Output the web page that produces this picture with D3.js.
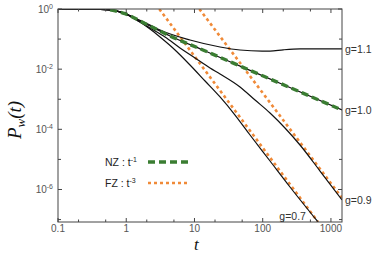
<!DOCTYPE html>
<html><head><meta charset="utf-8">
<script src="https://cdn.jsdelivr.net/npm/d3@7"></script>
<style>
html,body{margin:0;padding:0;background:#fff;}
svg{display:block;}
</style>
</head><body>
<svg id="chart" width="374" height="255"></svg>
<script>
// ---- data (t, P_w) ----
const tG11 = [0.1,0.295,0.58,0.96,1.59,2.23,3.13,8.6,23.7,46.5,98,128,200,352,1452];
const pG11 = [1,0.99,0.93,0.70,0.42,0.294,0.2,0.0931,0.0546,0.0434,0.040,0.040,0.044,0.047,0.047];

const tG10 = [0.1,0.295,0.58,0.96,1.59,2.23,4.38,13.3,51.5,179,1452];
const pG10 = [1,0.99,0.93,0.70,0.40,0.272,0.127,0.0434,0.0115,0.0034,4.39e-4];

const tG09 = [0.1,0.295,0.58,0.96,1.59,2.23,3.7,6.14,10.2,16.9,23.7,46.5,77.2,128,212,352,692,1452];
const pG09 = [1,0.99,0.93,0.70,0.37,0.233,0.117,0.0505,0.0235,0.01093,0.0069,0.00255,9.4e-4,3.49e-4,1.107e-4,3.01e-5,4.11e-6,4.47e-7];

const tG07 = [0.1,0.295,0.58,0.96,1.59,2.23,3.13,5.19,8.6,14.3,23.7,39.3,65.2,128,251,647];
const pG07 = [1,0.99,0.93,0.70,0.37,0.216,0.117,0.0434,0.01376,0.00404,0.00119,2.99e-4,6.47e-5,8.85e-6,1.21e-6,8.3e-8];

// NZ fit (t^-1) – green dashed
const tNZ = [0.58,0.96,1.59,2.23,4.38,13.3,51.5,179,1452];
const pNZ = [0.93,0.70,0.40,0.272,0.127,0.0434,0.0115,0.0034,4.39e-4];

// FZ fits (t^-3) – orange dotted
const tFZa = [3.05,647];
const pFZa = [1,8.3e-8];
const tFZb = [11.8,1452];
const pFZb = [1,5.2e-7];

const curveNames = ["g=1.1","g=1.0","g=0.9","g=0.7"];
const xMajorTicks = [0.1,1,10,100,1000];
const xMajorLabels = ["0.1","1","10","100","1000"];
const xMinorTicks = [0.2,0.5,2,5,20,50,200,500];
const yTickExps = [0,-1,-2,-3,-4,-5,-6,-7];
const yLabelExps = [0,-2,-4,-6];
const legendLabels = [{name:"NZ : t", sup:"-1"},{name:"FZ : t", sup:"-3"}];

// ---- layout ----
const svg = d3.select("#chart");
const L = 58, R = 342, T = 9, B = 222;
const x = d3.scaleLog().domain([0.1, 1452]).range([L, R]);
const y = d3.scaleLog().domain([1, 8.3e-8]).range([T, B]);

svg.append("defs").append("clipPath").attr("id","clip")
  .append("rect").attr("x",L).attr("y",T).attr("width",R-L).attr("height",B-T);

const zip = (ts, ps) => ts.map((t,i)=>[t, ps[i]]);
const line = d3.line().x(d=>x(d[0])).y(d=>y(d[1])).curve(d3.curveMonotoneX);
const lineStraight = d3.line().x(d=>x(d[0])).y(d=>y(d[1]));

const plot = svg.append("g").attr("clip-path","url(#clip)");

// orange fits
[zip(tFZa,pFZa), zip(tFZb,pFZb)].forEach(d=>{
  plot.append("path").attr("d", lineStraight(d)).attr("fill","none")
    .attr("stroke","#f08a38").attr("stroke-width",2.6).attr("stroke-dasharray","3,3");
});
// black curves
const curves = [zip(tG11,pG11), zip(tG10,pG10), zip(tG09,pG09), zip(tG07,pG07)];
curves.forEach(d=>{
  plot.append("path").attr("d", line(d)).attr("fill","none")
    .attr("stroke","#111").attr("stroke-width",1.2);
});
// green fit
plot.append("path").attr("d", line(zip(tNZ,pNZ))).attr("fill","none")
  .attr("stroke","#3a7d32").attr("stroke-width",3.4).attr("stroke-dasharray","7,4");

// ---- axes / frame ----
const axisColor = "#444";
const g = svg.append("g");
g.append("rect").attr("x",L).attr("y",T).attr("width",R-L).attr("height",B-T)
  .attr("fill","none").attr("stroke",axisColor).attr("stroke-width",1);

function tickX(v, len){
  g.append("line").attr("x1",x(v)).attr("x2",x(v)).attr("y1",B).attr("y2",B-len).attr("stroke",axisColor);
  g.append("line").attr("x1",x(v)).attr("x2",x(v)).attr("y1",T).attr("y2",T+len).attr("stroke",axisColor);
}
xMajorTicks.forEach(v=>tickX(v,4));
xMinorTicks.forEach(v=>tickX(v,2.5));
yTickExps.forEach(e=>{
  const v = Math.pow(10,e);
  const len = (e%2===0)?4:3;
  g.append("line").attr("x1",L).attr("x2",L+len).attr("y1",y(v)).attr("y2",y(v)).attr("stroke",axisColor);
  g.append("line").attr("x1",R).attr("x2",R-len).attr("y1",y(v)).attr("y2",y(v)).attr("stroke",axisColor);
});

const font = "'Liberation Sans', Arial, Helvetica, sans-serif";
xMajorTicks.forEach((v,i)=>{
  g.append("text").attr("x",x(v)).attr("y",B+10).attr("text-anchor","middle")
    .attr("font-family",font).attr("font-size",10).attr("fill","#555").text(xMajorLabels[i]);
});
yLabelExps.forEach(e=>{
  const t = g.append("text").attr("x",L-5).attr("y",y(Math.pow(10,e))+4)
    .attr("text-anchor","end").attr("font-family",font).attr("font-size",10).attr("fill","#555");
  t.append("tspan").text("10");
  t.append("tspan").attr("dy",-4).attr("font-size",7).text(e===0?"0":String(e));
});

// axis titles
svg.append("text").attr("x",x(10)+2).attr("y",250).attr("text-anchor","middle")
  .attr("font-family","'Liberation Serif', 'Times New Roman', serif").attr("font-style","italic")
  .attr("font-size",17).attr("fill","#111").text("t");
const yl = svg.append("text").attr("transform","translate(21,120) rotate(-90)")
  .attr("text-anchor","middle").attr("font-family","'Liberation Serif', 'Times New Roman', serif")
  .attr("font-style","italic").attr("font-size",19).attr("fill","#111");
yl.append("tspan").text("P");
yl.append("tspan").attr("dy",4).attr("font-size",13).text("w");
yl.append("tspan").attr("dy",-4).text("(t)");

// curve labels
const lastP = [pG11[pG11.length-1], pG10[pG10.length-1], pG09[pG09.length-1]];
lastP.forEach((p,i)=>{
  svg.append("text").attr("x",R+3).attr("y",y(p)+4).attr("font-family",font)
    .attr("font-size",10.5).attr("fill","#333").text(curveNames[i]);
});
svg.append("text").attr("x",x(430)).attr("y",y(9.7e-8)).attr("text-anchor","end")
  .attr("font-family",font).attr("font-size",10.5).attr("fill","#333").text(curveNames[3]);

// legend
const legStyles = [{c:"#3a7d32",w:3.4,d:"7,4"},{c:"#f08a38",w:2.6,d:"3,3"}];
legendLabels.forEach((l,i)=>{
  const yy = 162 + i*21;
  const t = svg.append("text").attr("x",105).attr("y",yy+4).attr("font-family",font)
    .attr("font-size",10.5).attr("fill","#222");
  t.append("tspan").text(l.name);
  t.append("tspan").attr("dy",-4).attr("font-size",7).text(l.sup);
  svg.append("line").attr("x1",148).attr("x2",188).attr("y1",yy).attr("y2",yy)
    .attr("stroke",legStyles[i].c).attr("stroke-width",legStyles[i].w).attr("stroke-dasharray",legStyles[i].d);
});
</script>
</body></html>
